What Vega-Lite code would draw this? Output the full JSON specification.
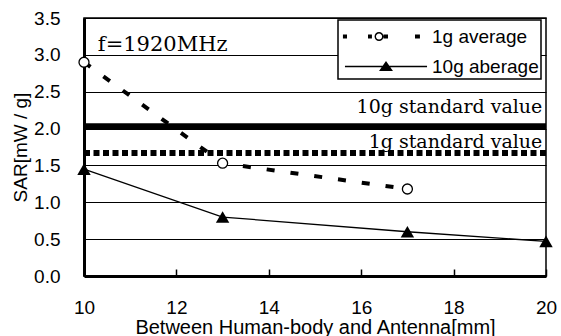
{
  "$schema": "https://vega.github.io/schema/vega-lite/v6.json",
  "width": 462,
  "height": 258,
  "autosize": {"type": "none"},
  "padding": {"left": 84, "top": 18, "right": 15, "bottom": 60},
  "background": "white",
  "config": {
    "view": {"stroke": "black", "strokeWidth": 1.5},
    "font": "Liberation Sans",
    "legend": {"strokeWidth": 1.5},
    "axis": {
      "domainColor": "black",
      "domainWidth": 3,
      "labelColor": "black",
      "labelFont": "Liberation Sans",
      "labelFontSize": 19,
      "titleFont": "Liberation Sans",
      "titleColor": "black",
      "titleFontWeight": "normal",
      "gridColor": "black",
      "gridOpacity": 1,
      "gridWidth": 1,
      "tickColor": "black"
    },
    "axisX": {
      "grid": false,
      "ticks": true,
      "tickSize": -7,
      "tickWidth": 1.5,
      "labelPadding": 29,
      "labelFlush": false,
      "titleFontSize": 20,
      "titleBaseline": "alphabetic",
      "titleY": 57
    },
    "axisY": {
      "grid": true,
      "ticks": false,
      "labelPadding": 24,
      "titleFontSize": 19,
      "titleX": -64,
      "titleBaseline": "middle"
    }
  },
  "datasets": {
    "measurements": [
      {"series": "1g average", "distance": 10, "sar": 2.9},
      {"series": "1g average", "distance": 13, "sar": 1.53},
      {"series": "1g average", "distance": 17, "sar": 1.18},
      {"series": "10g aberage", "distance": 10, "sar": 1.45},
      {"series": "10g aberage", "distance": 13, "sar": 0.8},
      {"series": "10g aberage", "distance": 17, "sar": 0.6},
      {"series": "10g aberage", "distance": 20, "sar": 0.47}
    ],
    "standards": [
      {"standard": "10g standard value", "value": 2.03},
      {"standard": "1g standard value", "value": 1.67}
    ],
    "notes": [
      {"note": "f=1920MHz"}
    ]
  },
  "layer": [
    {
      "data": {"name": "standards"},
      "transform": [{"filter": "datum.standard == '10g standard value'"}],
      "mark": {"type": "rule", "color": "black", "strokeWidth": 6},
      "encoding": {
        "y": {"field": "value", "type": "quantitative", "scale": {"domain": [0, 3.5], "nice": false, "zero": true}, "axis": {"title": "SAR[mW / g]", "values": [0, 0.5, 1, 1.5, 2, 2.5, 3, 3.5], "format": ".1f"}}
      }
    },
    {
      "data": {"name": "standards"},
      "transform": [{"filter": "datum.standard == '1g standard value'"}],
      "mark": {"type": "rule", "color": "black", "strokeWidth": 6, "strokeDash": [6, 3.5]},
      "encoding": {
        "y": {"field": "value", "type": "quantitative", "axis": {"title": "SAR[mW / g]", "values": [0, 0.5, 1, 1.5, 2, 2.5, 3, 3.5], "format": ".1f"}}
      }
    },
    {
      "data": {"name": "standards"},
      "transform": [{"filter": "datum.standard == '10g standard value'"}],
      "mark": {"type": "text", "align": "right", "baseline": "alphabetic", "dy": -13, "font": "DejaVu Serif", "fontSize": 19, "color": "black"},
      "encoding": {
        "x": {"datum": 19.92, "type": "quantitative", "scale": {"domain": [10, 20], "nice": false, "zero": false}, "axis": {"title": "Between Human-body and Antenna[mm]", "values": [10, 12, 14, 16, 18, 20]}},
        "y": {"field": "value", "type": "quantitative", "axis": {"title": "SAR[mW / g]", "values": [0, 0.5, 1, 1.5, 2, 2.5, 3, 3.5], "format": ".1f"}},
        "text": {"field": "standard"}
      }
    },
    {
      "data": {"name": "standards"},
      "transform": [{"filter": "datum.standard == '1g standard value'"}],
      "mark": {"type": "text", "align": "right", "baseline": "alphabetic", "dy": -5, "font": "DejaVu Serif", "fontSize": 19, "color": "black"},
      "encoding": {
        "x": {"datum": 19.92, "type": "quantitative", "axis": {"title": "Between Human-body and Antenna[mm]", "values": [10, 12, 14, 16, 18, 20]}},
        "y": {"field": "value", "type": "quantitative", "axis": {"title": "SAR[mW / g]", "values": [0, 0.5, 1, 1.5, 2, 2.5, 3, 3.5], "format": ".1f"}},
        "text": {"field": "standard"}
      }
    },
    {
      "data": {"name": "notes"},
      "mark": {"type": "text", "align": "left", "baseline": "alphabetic", "font": "DejaVu Serif", "fontSize": 21, "color": "black"},
      "encoding": {
        "x": {"datum": 10.3, "type": "quantitative", "axis": {"title": "Between Human-body and Antenna[mm]", "values": [10, 12, 14, 16, 18, 20]}},
        "y": {"datum": 3.05, "type": "quantitative", "axis": {"title": "SAR[mW / g]", "values": [0, 0.5, 1, 1.5, 2, 2.5, 3, 3.5], "format": ".1f"}},
        "text": {"field": "note"}
      }
    },
    {
      "data": {"name": "measurements"},
      "transform": [{"filter": "datum.series == '1g average'"}],
      "mark": {"type": "line", "color": "black", "strokeWidth": 4, "strokeDash": [8, 16]},
      "encoding": {
        "x": {"field": "distance", "type": "quantitative", "axis": {"title": "Between Human-body and Antenna[mm]", "values": [10, 12, 14, 16, 18, 20]}},
        "y": {"field": "sar", "type": "quantitative", "axis": {"title": "SAR[mW / g]", "values": [0, 0.5, 1, 1.5, 2, 2.5, 3, 3.5], "format": ".1f"}}
      }
    },
    {
      "data": {"name": "measurements"},
      "transform": [{"filter": "datum.series == '10g aberage'"}],
      "mark": {"type": "line", "color": "black", "strokeWidth": 1.3},
      "encoding": {
        "x": {"field": "distance", "type": "quantitative", "axis": {"title": "Between Human-body and Antenna[mm]", "values": [10, 12, 14, 16, 18, 20]}},
        "y": {"field": "sar", "type": "quantitative", "axis": {"title": "SAR[mW / g]", "values": [0, 0.5, 1, 1.5, 2, 2.5, 3, 3.5], "format": ".1f"}}
      }
    },
    {
      "data": {"name": "measurements"},
      "transform": [{"filter": "datum.series == '1g average'"}],
      "mark": {"type": "point", "shape": "circle", "filled": true, "fill": "white", "stroke": "black", "strokeWidth": 1.3, "size": 100, "opacity": 1},
      "encoding": {
        "x": {"field": "distance", "type": "quantitative", "axis": {"title": "Between Human-body and Antenna[mm]", "values": [10, 12, 14, 16, 18, 20]}},
        "y": {"field": "sar", "type": "quantitative", "axis": {"title": "SAR[mW / g]", "values": [0, 0.5, 1, 1.5, 2, 2.5, 3, 3.5], "format": ".1f"}}
      }
    },
    {
      "data": {"name": "measurements"},
      "transform": [{"filter": "datum.series == '10g aberage'"}],
      "mark": {"type": "point", "shape": "triangle-up", "filled": true, "fill": "black", "size": 180, "opacity": 1},
      "encoding": {
        "x": {"field": "distance", "type": "quantitative", "axis": {"title": "Between Human-body and Antenna[mm]", "values": [10, 12, 14, 16, 18, 20]}},
        "y": {"field": "sar", "type": "quantitative", "axis": {"title": "SAR[mW / g]", "values": [0, 0.5, 1, 1.5, 2, 2.5, 3, 3.5], "format": ".1f"}}
      }
    },
    {
      "data": {"name": "measurements"},
      "mark": {"type": "point", "filled": true, "color": "black", "opacity": 0, "size": 841},
      "encoding": {
        "x": {"field": "distance", "type": "quantitative", "axis": {"title": "Between Human-body and Antenna[mm]", "values": [10, 12, 14, 16, 18, 20]}},
        "y": {"field": "sar", "type": "quantitative", "axis": {"title": "SAR[mW / g]", "values": [0, 0.5, 1, 1.5, 2, 2.5, 3, 3.5], "format": ".1f"}},
        "shape": {
          "field": "series", "type": "nominal",
          "scale": {
            "domain": ["1g average", "10g aberage"],
            "range": [
              "M-2.97,-0.14H-2.69V0.14H-2.97Z M-1.24,-0.14H-0.97V0.14H-1.24Z M-0.17,-0.14H0.14V0.14H-0.17Z M2.0,-0.14H2.34V0.14H2.0Z M-0.17,0A0.31,0.31 0 1 1 -0.79,0A0.31,0.31 0 1 1 -0.17,0Z M-0.27,0A0.21,0.21 0 1 0 -0.69,0A0.21,0.21 0 1 0 -0.27,0Z",
              "M-2.83,-0.045H2.83V0.045H-2.83Z M-0.48,0.31L0,-0.38L0.48,0.31Z"
            ]
          },
          "legend": {
            "orient": "none",
            "legendX": 254,
            "legendY": 2,
            "title": null,
            "padding": 2,
            "rowPadding": 5,
            "fillColor": "white",
            "strokeColor": "black",
            "symbolOpacity": 1,
            "symbolSize": 841,
            "symbolStrokeWidth": 0,
            "symbolFillColor": "black",
            "symbolOffset": 31.5,
            "labelOffset": 31.5,
            "labelFont": "Liberation Sans",
            "labelFontSize": 19,
            "labelColor": "black",
            "labelLimit": 0
          }
        }
      }
    }
  ]
}
